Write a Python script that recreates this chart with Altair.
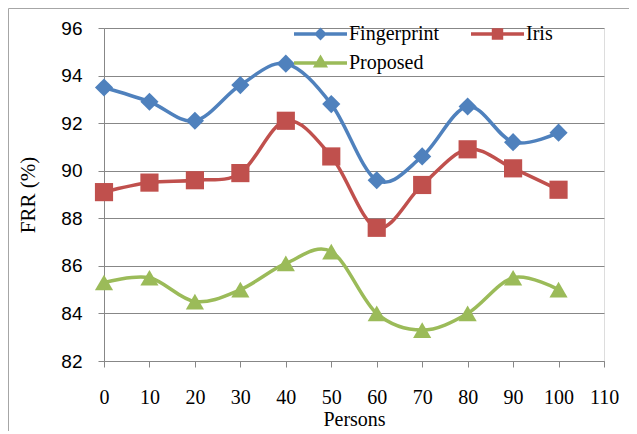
import altair as alt
import pandas as pd

persons = [0, 10, 20, 30, 40, 50, 60, 70, 80, 90, 100]
fingerprint = [93.5, 92.9, 92.1, 93.6, 94.5, 92.8, 89.6, 90.6, 92.7, 91.2, 91.6]
iris = [89.1, 89.5, 89.6, 89.9, 92.1, 90.6, 87.6, 89.4, 90.9, 90.1, 89.2]
proposed = [85.3, 85.5, 84.5, 85.0, 86.1, 86.6, 84.0, 83.3, 84.0, 85.5, 85.0]

series = ["Fingerprint", "Iris", "Proposed"]
colors = ["#4F81BD", "#C0504D", "#9BBB59"]
shapes = ["diamond", "square", "triangle-up"]
# legend symbols: a line segment with the marker on it
legend_shapes = [
    "M-1,0H1M0,-0.15L0.15,0L0,0.15L-0.15,0Z",
    "M-1,0H1M-0.15,-0.15H0.15V0.15H-0.15Z",
    "M-1,0H1M0,-0.19L0.17,0.1L-0.17,0.1Z",
]
x_ticks = [0, 10, 20, 30, 40, 50, 60, 70, 80, 90, 100, 110]
y_ticks = [82, 84, 86, 88, 90, 92, 94, 96]

rows = []
for name, vals in zip(series, [fingerprint, iris, proposed]):
    for p, v in zip(persons, vals):
        rows.append({"Persons": p, "FRR": v, "Series": name})
df = pd.DataFrame(rows)

SERIF = "Liberation Serif"
SANS = "Liberation Sans"
GRAY = "#878787"

x_enc = alt.X(
    "Persons:Q",
    scale=alt.Scale(domain=[0, 110], nice=False, zero=False),
    axis=alt.Axis(
        values=x_ticks, title="Persons", grid=False, labelFlush=False,
        labelFont=SERIF, labelFontSize=20, labelColor="#000000",
        labelPadding=20, tickSize=6, tickColor=GRAY, domainColor=GRAY,
        titleFont=SERIF, titleFontSize=20, titleFontWeight="normal",
        titleColor="#000000", titlePadding=2,
    ),
)
y_enc = alt.Y(
    "FRR:Q",
    scale=alt.Scale(domain=[82, 96], nice=False, zero=False),
    axis=alt.Axis(
        values=y_ticks, title="FRR (%)", grid=True, gridColor=GRAY,
        labelFont=SANS, labelFontSize=19, labelColor="#000000",
        labelPadding=16, tickSize=6, tickColor=GRAY, domainColor=GRAY,
        titleFont=SERIF, titleFontSize=21, titleFontWeight="normal",
        titleColor="#000000", titlePadding=22,
    ),
)

color_scale = alt.Scale(domain=series, range=colors)

legend = alt.Legend(
    orient="none", legendX=188, legendY=-4, columns=2, direction="horizontal",
    title=None, padding=0, labelFont=SERIF, labelFontSize=20,
    labelColor="#000000", columnPadding=30, rowPadding=9, labelLimit=0,
    clipHeight=20, symbolSize=2809, symbolStrokeWidth=3.5, symbolOpacity=1,
    labelOffset=0,
)

lines = alt.Chart(df).mark_line(interpolate="cardinal", strokeWidth=3.5).encode(
    x=x_enc, y=y_enc,
    stroke=alt.Stroke("Series:N", scale=color_scale, legend=None),
    detail="Series:N",
)
points = alt.Chart(df).mark_point(filled=True, size=330, opacity=1).encode(
    x=x_enc, y=y_enc,
    fill=alt.Fill("Series:N", scale=color_scale, legend=None),
    shape=alt.Shape("Series:N", scale=alt.Scale(domain=series, range=shapes), legend=None),
)
legend_src = alt.Chart(df).mark_point(filled=True, opacity=0, size=10).encode(
    x=x_enc, y=y_enc,
    fill=alt.Fill("Series:N", scale=color_scale, legend=legend),
    stroke=alt.Stroke("Series:N", scale=color_scale, legend=legend),
    shape=alt.Shape("Series:N", scale=alt.Scale(domain=series, range=legend_shapes), legend=legend),
)
frame = alt.Chart(alt.Data(values=[{}])).mark_rect(
    filled=False, stroke="#A6A6A6", strokeWidth=1
).encode(
    x=alt.value(-95.5), x2=alt.value(560), y=alt.value(-19.5), y2=alt.value(450)
)

chart = alt.layer(frame, lines, points, legend_src).resolve_scale(
    shape="independent", fill="independent", stroke="independent"
).properties(
    width=500, height=333,
    autosize=alt.AutoSizeParams(type="none"),
    padding={"left": 96, "top": 20, "right": 25, "bottom": 70},
).configure_view(stroke=None).configure(background="#FFFFFF")

chart.save("out.html", embed_options={"renderer": "svg", "actions": False})
